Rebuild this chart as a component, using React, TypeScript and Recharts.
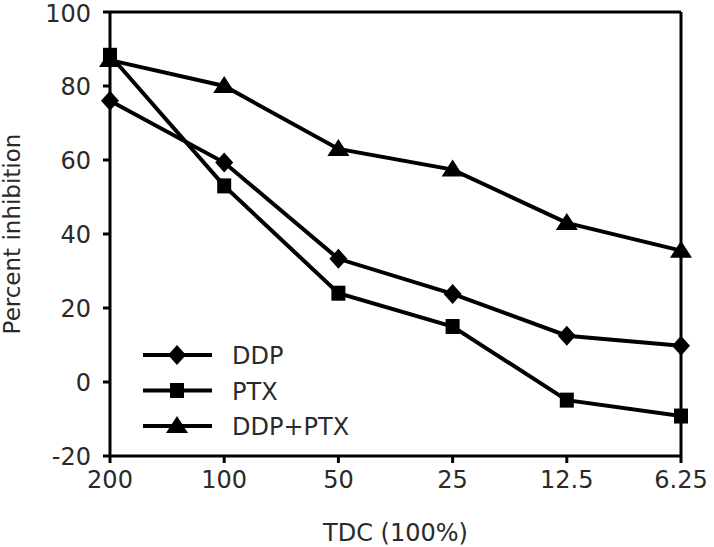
import React from 'react';
import {
  LineChart,
  Line,
  XAxis,
  YAxis,
  ReferenceLine,
} from 'recharts';

const doses = ['200', '100', '50', '25', '12.5', '6.25'];
const ddp = [76, 59.3, 33.3, 23.8, 12.5, 9.8];
const ptx = [88.3, 53, 24, 15, -4.9, -9.2];
const combo = [87, 80, 63, 57.4, 43, 35.5];
const yTicks = [-20, 0, 20, 40, 60, 80, 100];

const seriesList = [
  { key: 'ddp', name: 'DDP', shape: 'diamond' },
  { key: 'ptx', name: 'PTX', shape: 'square' },
  { key: 'combo', name: 'DDP+PTX', shape: 'triangle' },
];

const chartData = doses.map((d, i) => ({
  dose: d,
  ddp: ddp[i],
  ptx: ptx[i],
  combo: combo[i],
}));

const FONT = 'DejaVu Sans, sans-serif';
const TEXT = '#2a2a2a';

function Marker({ cx, cy, shape }: { cx: number; cy: number; shape: string }) {
  if (shape === 'diamond') {
    return <polygon points={`${cx},${cy - 10} ${cx + 9},${cy} ${cx},${cy + 10} ${cx - 9},${cy}`} fill="#000" />;
  }
  if (shape === 'square') {
    return <rect x={cx - 7} y={cy - 7.5} width={14} height={15} fill="#000" />;
  }
  return <polygon points={`${cx},${cy - 10} ${cx + 11},${cy + 7} ${cx - 11},${cy + 7}`} fill="#000" />;
}

const makeDot = (shape: string) => (props: any) => {
  const { cx, cy, index } = props;
  if (cx == null || cy == null) return <g key={index} />;
  return <Marker key={index} cx={cx} cy={cy} shape={shape} />;
};

// legend sits inside the plot, lower left
function LegendBox() {
  return (
    <svg width={270} height={120} style={{ position: 'absolute', left: 142, top: 330 }}>
      {seriesList.map((s, i) => {
        const y = 25 + i * 35.5;
        return (
          <g key={s.key}>
            <line x1={1} x2={70} y1={y} y2={y} stroke="#000" strokeWidth={4} />
            <Marker cx={35} cy={y} shape={s.shape} />
            <text x={90} y={y + 9} fontFamily={FONT} fontSize={24} fill={TEXT}>
              {s.name}
            </text>
          </g>
        );
      })}
    </svg>
  );
}

export default function App() {
  return (
    <div style={{ position: 'absolute', left: 0, top: 0, width: 714, height: 547, background: '#fff' }}>
      <LineChart
        width={714}
        height={547}
        data={chartData}
        margin={{ top: 12, right: 33, bottom: 0, left: 30 }}
      >
        <XAxis
          dataKey="dose"
          height={91}
          tickSize={7}
          tickMargin={8}
          stroke="#000"
          strokeWidth={3}
          tick={{ fontSize: 24, fill: TEXT, fontFamily: FONT }}
          label={{
            value: 'TDC (100%)',
            position: 'insideBottom',
            offset: 6,
            style: { fontSize: 24, fill: TEXT, fontFamily: FONT },
          }}
        />
        <YAxis
          width={80}
          domain={[-20, 100]}
          ticks={yTicks}
          tickSize={7}
          tickMargin={12}
          stroke="#000"
          strokeWidth={3}
          tick={{ fontSize: 24, fill: TEXT, fontFamily: FONT }}
          label={{
            value: 'Percent inhibition',
            angle: -90,
            position: 'insideLeft',
            offset: -18,
            style: { textAnchor: 'middle', fontSize: 23, fill: TEXT, fontFamily: FONT },
          }}
        />
        <ReferenceLine y={100} stroke="#000" strokeWidth={3} />
        <ReferenceLine x="6.25" stroke="#000" strokeWidth={3} />
        {seriesList.map((s) => (
          <Line
            key={s.key}
            dataKey={s.key}
            name={s.name}
            type="linear"
            stroke="#000"
            strokeWidth={4}
            dot={makeDot(s.shape)}
            activeDot={false}
            isAnimationActive={false}
          />
        ))}
      </LineChart>
      <LegendBox />
    </div>
  );
}
